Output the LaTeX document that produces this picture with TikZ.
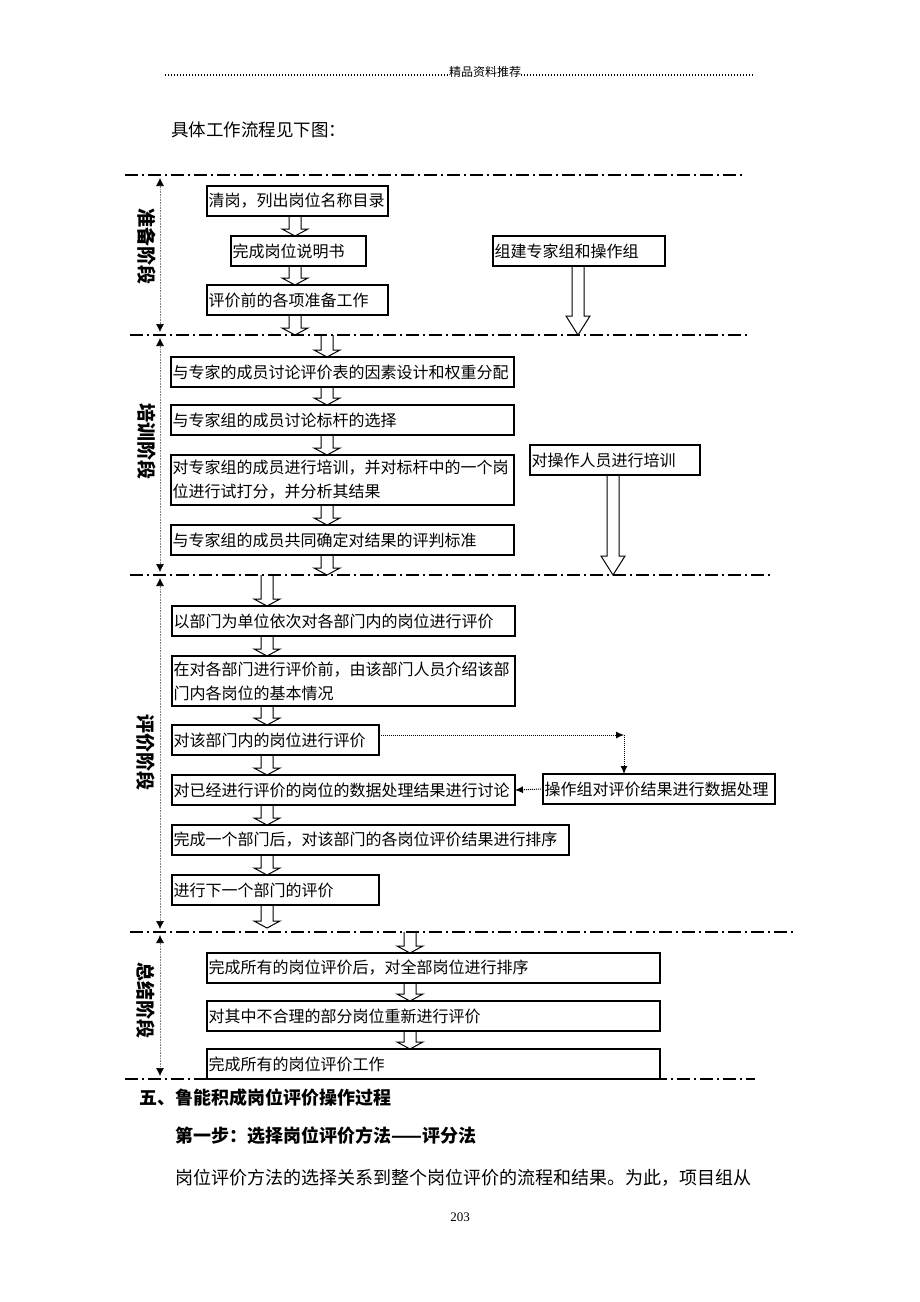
\documentclass[tikz,border=0pt]{standalone}
\usepackage{fontspec}
\setmainfont{Noto Sans CJK SC}
\newfontfamily\pagenumfont{Liberation Serif}
\usetikzlibrary{arrows.meta, positioning, calc}

% hollow block arrow between two points (small one between boxes)
\newcommand{\flowarrow}[2]{%
  \draw[hollow] let \p1=#1, \p2=#2 in
    (\x1-6pt,\y1) -- (\x1-6pt,\y2+7pt) -- (\x1-13pt,\y2+7pt) -- (\x1,\y2)
    -- (\x1+13pt,\y2+7pt) -- (\x1+6pt,\y2+7pt) -- (\x1+6pt,\y1);}
% long hollow arrow for the side branches
\newcommand{\sideflow}[2]{%
  \draw[hollow] let \p1=#1, \p2=#2 in
    (\x1-6pt,\y1) -- (\x1-6pt,\y2+19pt) -- (\x1-12pt,\y2+19pt) -- (\x1,\y2)
    -- (\x1+12pt,\y2+19pt) -- (\x1+6pt,\y2+19pt) -- (\x1+6pt,\y1);}

\begin{document}
\begin{tikzpicture}[
    x=1pt, y=-1pt,
    box/.style={draw, line width=1.2pt, text width=#1, align=left,
                inner xsep=1.5pt, inner ysep=0pt, outer sep=0pt, minimum height=30pt,
                font=\fontsize{16}{24}\selectfont},
    twoline/.style={minimum height=50pt},
    stagelabel/.style={rotate=-90, inner sep=0pt, font=\bfseries\fontsize{19}{21}\selectfont},
    plain/.style={inner sep=0pt, anchor=west, font=\fontsize{18}{20}\selectfont},
    dashdot/.style={line width=1.4pt, dash pattern=on 13pt off 4pt on 2pt off 4pt},
    spine/.style={densely dotted, line width=0.6pt, draw=gray,
                  {Latex[length=8pt,width=8pt,black]}-{Latex[length=8pt,width=8pt,black]}},
    dotarrow/.style={densely dotted, line width=1pt, -{Latex[length=8pt,width=7pt]}},
    hollow/.style={draw, line width=1pt},
    hdrdots/.style={line width=1.2pt, dash pattern=on 1.2pt off 1.8pt},
]
    \fill[white] (0,0) rectangle (920,1302);

    % Page header
    \node[inner sep=0pt, font=\fontsize{12}{14}\selectfont] (hdr) at (485,72) {精品资料推荐};
    \draw[hdrdots] (165,75) -- (hdr.west |- 0,75);
    \draw[hdrdots] (hdr.east |- 0,75) -- (755,75);
    \node[plain, font=\fontsize{17.5}{20}\selectfont] (intro) at (171,130) {具体工作流程见下图：};

    % Stage borders
    \coordinate (d1a) at (125,175);  \coordinate (d1b) at (745,175);
    \coordinate (d2a) at (130,335);  \coordinate (d2b) at (750,335);
    \coordinate (d3a) at (130,575);  \coordinate (d3b) at (770,575);
    \coordinate (d4a) at (130,932);  \coordinate (d4b) at (795,932);
    \coordinate (d5a) at (125,1079); \coordinate (d5b) at (755,1079);
    \foreach \i in {1,...,5}
        \draw[dashdot] (d\i a) -- (d\i b);

    % Stage spans and labels
    \coordinate (sp) at (160,0);
    \draw[spine] ($(d1a -| sp)+(0,3)$) -- ($(d2a -| sp)+(0,-3)$);
    \draw[spine] ($(d2a -| sp)+(0,3)$) -- ($(d3a -| sp)+(0,-3)$);
    \draw[spine] ($(d3a -| sp)+(0,3)$) -- ($(d4a -| sp)+(0,-3)$);
    \draw[spine] ($(d4a -| sp)+(0,3)$) -- ($(d5a -| sp)+(0,-3)$);
    \node[stagelabel] (lab1) at (147,246) {准备阶段};
    \node[stagelabel] (lab2) at (147,441) {培训阶段};
    \node[stagelabel] (lab3) at (146,752) {评价阶段};
    \node[stagelabel] (lab4) at (146,1000) {总结阶段};

    % Stage 1
    \node[box=178pt, anchor=north west] (qg) at (207,186) {清岗，列出岗位名称目录};
    \node[box=132pt, anchor=north west] (sm) at (231,236) {完成岗位说明书};
    \node[box=178pt, anchor=north west] (zb) at (207,285) {评价前的各项准备工作};
    \node[box=169pt, anchor=north west] (zj) at (493,236) {组建专家组和操作组};

    % Stage 2
    \node[box=340pt, anchor=north west] (t1) at (171,357) {与专家的成员讨论评价表的因素设计和权重分配};
    \node[box=340pt, below=18pt of t1.south west, anchor=north west] (t2) {与专家组的成员讨论标杆的选择};
    \node[box=340pt, twoline, below=20pt of t2.south west, anchor=north west] (t3)
        {对专家组的成员进行培训，并对标杆中的一个岗\\位进行试打分，并分析其结果};
    \node[box=340pt, below=20pt of t3.south west, anchor=north west] (t4) {与专家组的成员共同确定对结果的评判标准};
    \node[box=167pt, anchor=north west] (px) at (530,445) {对操作人员进行培训};

    % Stage 3
    \node[box=340pt, anchor=north west] (e1) at (172,606) {以部门为单位依次对各部门内的岗位进行评价};
    \node[box=340pt, twoline, below=20pt of e1.south west, anchor=north west] (e2)
        {在对各部门进行评价前，由该部门人员介绍该部\\门内各岗位的基本情况};
    \node[box=204pt, below=19pt of e2.south west, anchor=north west] (e3) {对该部门内的岗位进行评价};
    \node[box=340pt, below=20pt of e3.south west, anchor=north west] (e4) {对已经进行评价的岗位的数据处理结果进行讨论};
    \node[box=394pt, below=20pt of e4.south west, anchor=north west] (e5) {完成一个部门后，对该部门的各岗位评价结果进行排序};
    \node[box=204pt, below=20pt of e5.south west, anchor=north west] (e6) {进行下一个部门的评价};
    \node[box=229pt, anchor=north west] (dp) at (543,774) {操作组对评价结果进行数据处理};

    % Stage 4
    \node[box=450pt, anchor=north west] (f1) at (207,953) {完成所有的岗位评价后，对全部岗位进行排序};
    \node[box=450pt, below=18pt of f1.south west, anchor=north west] (f2) {对其中不合理的部分岗位重新进行评价};
    \node[box=450pt, below=18pt of f2.south west, anchor=north west] (f3) {完成所有的岗位评价工作};

    % Hollow arrows
    \coordinate (s1) at (295,0);
    \coordinate (s2) at (327,0);
    \coordinate (s3) at (267,0);
    \coordinate (s4) at (410,0);
    \flowarrow{(qg.south -| s1)}{(sm.north -| s1)}
    \flowarrow{(sm.south -| s1)}{(zb.north -| s1)}
    \flowarrow{(zb.south -| s1)}{(d2a -| s1)}
    \sideflow{(zj.south -| 578,0)}{(d2a -| 578,0)}
    \flowarrow{(d2a -| s2)}{(t1.north -| s2)}
    \flowarrow{(t1.south -| s2)}{(t2.north -| s2)}
    \flowarrow{(t2.south -| s2)}{(t3.north -| s2)}
    \flowarrow{(t3.south -| s2)}{(t4.north -| s2)}
    \flowarrow{(t4.south -| s2)}{(d3a -| s2)}
    \sideflow{(px.south -| 613,0)}{(d3a -| 613,0)}
    \flowarrow{(d3a -| s3)}{(e1.north -| s3)}
    \flowarrow{(e1.south -| s3)}{(e2.north -| s3)}
    \flowarrow{(e2.south -| s3)}{(e3.north -| s3)}
    \flowarrow{(e3.south -| s3)}{(e4.north -| s3)}
    \flowarrow{(e4.south -| s3)}{(e5.north -| s3)}
    \flowarrow{(e5.south -| s3)}{(e6.north -| s3)}
    \flowarrow{(e6.south -| s3)}{($(d4a -| s3)+(0,-4)$)}
    \flowarrow{(d4a -| s4)}{(f1.north -| s4)}
    \flowarrow{(f1.south -| s4)}{(f2.north -| s4)}
    \flowarrow{(f2.south -| s4)}{(f3.north -| s4)}

    % Data processing loop
    \coordinate (turn) at ($(e3.east)+(245,-5)$);
    \draw[dotarrow] ([yshift=5pt]e3.east) -- (turn);
    \draw[dotarrow] (turn) -- (dp.north -| turn);
    \draw[dotarrow] (dp.west) -- (e4.east);

    % Text below the chart
    \node[plain, font=\bfseries\fontsize{18}{20}\selectfont] (sec) at (139,1098) {五、鲁能积成岗位评价操作过程};
    \node[plain, font=\bfseries\fontsize{18}{20}\selectfont] (step) at (175,1136) {第一步：选择岗位评价方法——评分法};
    \node[plain] (para) at (175,1178) {岗位评价方法的选择关系到整个岗位评价的流程和结果。为此，项目组从};
    \node[inner sep=0pt, font=\pagenumfont\fontsize{13}{15}\selectfont] (page) at (460,1217) {203};
\end{tikzpicture}
\end{document}
